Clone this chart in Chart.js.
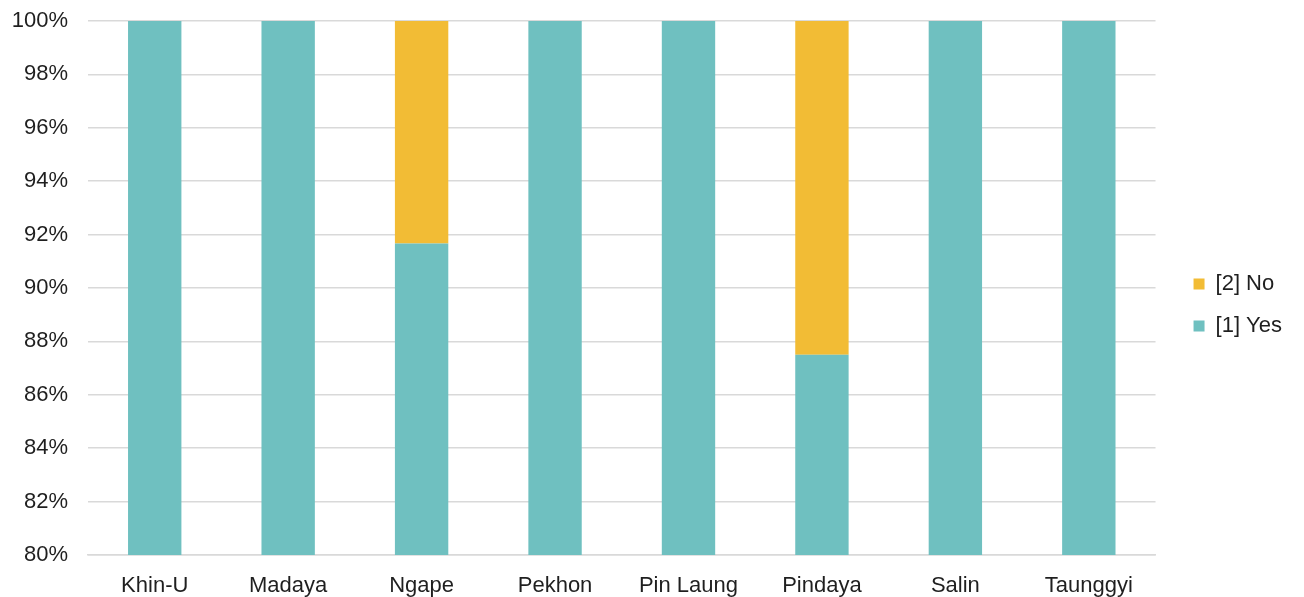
<!DOCTYPE html>
<html>
<head>
<meta charset="utf-8">
<script src="https://cdn.jsdelivr.net/npm/chart.js@4/dist/chart.umd.min.js"></script>
<style>
  html, body { margin: 0; padding: 0; background: #fff; }
  #wrap { width: 1304px; height: 597px; }
</style>
</head>
<body>
<div id="wrap"><canvas id="c" width="1304" height="597"></canvas></div>
<script>
// Share of respondents per township (percent)
const townships = ['Khin-U', 'Madaya', 'Ngape', 'Pekhon', 'Pin Laung', 'Pindaya', 'Salin', 'Taunggyi'];
const yesShare = [100, 100, 91.67, 100, 100, 87.5, 100, 100];
const noShare  = [0, 0, 8.33, 0, 0, 12.5, 0, 0];
const seriesNames = ['[1] Yes', '[2] No'];
const yTicks = [80, 82, 84, 86, 88, 90, 92, 94, 96, 98, 100];

const FONT = "'Liberation Sans', Arial, sans-serif";
const TEXT = '#1f1f1f';
const SIZE = 22;

// Push the legend a bit further right of the plot area and nudge it up
const legendShift = {
  id: 'legendShift',
  afterLayout(chart) {
    const lg = chart.legend;
    if (lg) { lg.left += 18; lg.right += 18; lg.top -= 4; lg.bottom -= 4; }
  }
};

new Chart(document.getElementById('c'), {
  type: 'bar',
  data: {
    labels: townships,
    datasets: [
      { label: seriesNames[0], data: yesShare, backgroundColor: '#6fc0c0', borderWidth: 0,
        barPercentage: 0.4, categoryPercentage: 1 },
      { label: seriesNames[1], data: noShare, backgroundColor: '#f2bc35', borderWidth: 0,
        barPercentage: 0.4, categoryPercentage: 1 }
    ]
  },
  plugins: [legendShift],
  options: {
    responsive: false,
    animation: false,
    layout: { padding: { top: 21, left: 0, right: 30, bottom: 0 } },
    plugins: {
      tooltip: { enabled: false },
      legend: {
        position: 'right',
        reverse: true,
        labels: {
          font: { family: FONT, size: SIZE },
          color: TEXT,
          boxWidth: 11,
          boxHeight: 11,
          padding: 20
        }
      }
    },
    scales: {
      x: {
        stacked: true,
        grid: { display: false },
        border: { display: true, color: '#d9d9d9', width: 1.5 },
        ticks: { font: { family: FONT, size: SIZE }, color: TEXT, padding: 10, maxRotation: 0 },
        afterFit: s => { s.height = 42; }
      },
      y: {
        stacked: true,
        min: 80,
        max: 100,
        afterBuildTicks: s => { s.ticks = yTicks.map(v => ({ value: v })); },
        grid: { color: '#d9d9d9', lineWidth: 1.5, drawTicks: false },
        border: { display: false },
        ticks: {
          font: { family: FONT, size: SIZE },
          color: TEXT,
          padding: 20,
          callback: v => v + '%'
        },
        afterFit: s => { s.width = 88; s.paddingTop = 0; s.paddingBottom = 0; }
      }
    }
  }
});
</script>
</body>
</html>
